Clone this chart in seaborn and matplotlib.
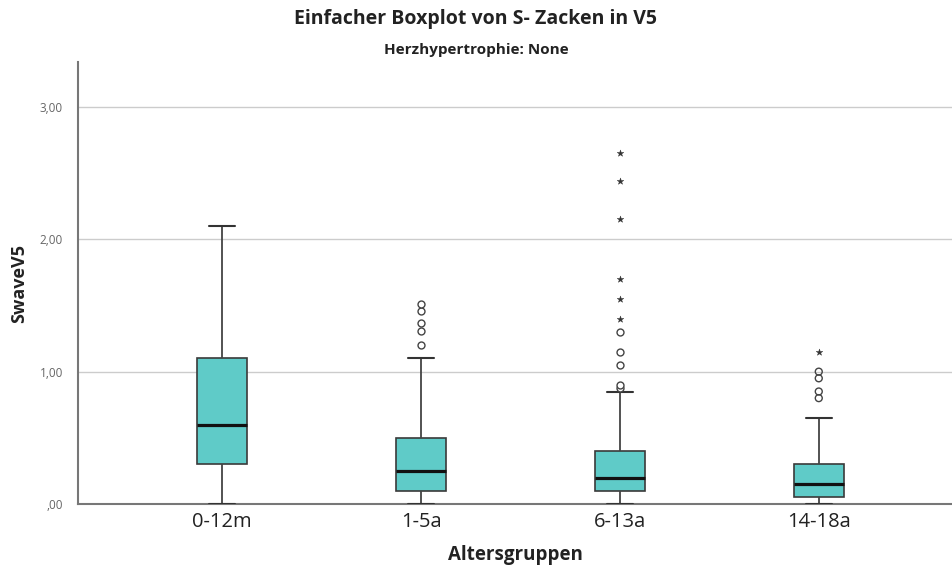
import matplotlib
matplotlib.use("Agg")
import matplotlib.pyplot as plt
import seaborn as sns
import pandas as pd
from matplotlib.ticker import FixedLocator

# ---- data ----
groups = ["0-12m", "1-5a", "6-13a", "14-18a"]
whisker_low = [0.00, 0.00, 0.00, 0.00]
q1 = [0.30, 0.10, 0.10, 0.05]
median = [0.60, 0.25, 0.20, 0.15]
q3 = [1.10, 0.50, 0.40, 0.30]
whisker_high = [2.10, 1.10, 0.85, 0.65]

circle_groups = ["1-5a"] * 5 + ["6-13a"] * 5 + ["14-18a"] * 4
circle_values = [1.20, 1.31, 1.37, 1.46, 1.51,
                 0.88, 0.90, 1.05, 1.15, 1.30,
                 0.80, 0.85, 0.95, 1.00]
star_groups = ["6-13a"] * 6 + ["14-18a"]
star_values = [1.40, 1.55, 1.70, 2.15, 2.44, 2.65, 1.15]

y_ticks = [0, 1, 2, 3]
y_ticklabels = [",00", "1,00", "2,00", "3,00"]

title = "Einfacher Boxplot von S- Zacken in V5"
subtitle = "Herzhypertrophie: None"
xlabel = "Altersgruppen"
ylabel = "SwaveV5"

# ---- build long table so that box statistics match ----
rows = []
for g, a, b, c, d, e in zip(groups, whisker_low, q1, median, q3, whisker_high):
    for v in (a, b, c, d, e):
        rows.append({"group": g, "value": v})
box_df = pd.DataFrame(rows)
circ_df = pd.DataFrame({"group": circle_groups, "value": circle_values})
star_df = pd.DataFrame({"group": star_groups, "value": star_values})

sns.set_style("white")
plt.rcParams["font.family"] = ["Open Sans", "DejaVu Sans"]

fig = plt.figure(figsize=(9.52, 5.70), dpi=100)
ax = fig.add_axes([0.082, 0.1158, 0.918, 0.7754])

fill = "#5FCBC8"
sns.boxplot(data=box_df, x="group", y="value", order=groups, whis=(0, 100),
            showfliers=False, width=0.25, color=fill, saturation=1, ax=ax,
            boxprops=dict(facecolor=fill, edgecolor="#3a3a3a", linewidth=1.2),
            medianprops=dict(color="#111111", linewidth=2.3),
            whiskerprops=dict(color="#444444", linewidth=1.3),
            capprops=dict(color="#333333", linewidth=1.5),
            capwidths=0.13, zorder=3)

sns.stripplot(data=circ_df, x="group", y="value", order=groups, jitter=False,
              marker="o", size=5, color="white", edgecolor="#444444",
              linewidth=1.0, ax=ax, zorder=4)
ax.collections[-1].set_facecolor("none")
sns.stripplot(data=star_df, x="group", y="value", order=groups, jitter=False,
              marker="*", size=5, color="#333333", edgecolor="#333333",
              linewidth=0.3, ax=ax, zorder=4)

ax.set_xlim(-0.725, 3.67)
ax.set_ylim(0, 3.34)

ax.yaxis.set_major_locator(FixedLocator(y_ticks))
ax.set_yticklabels(y_ticklabels, fontsize=8.5, color="#666666")
ax.set_xticks(range(len(groups)))
ax.set_xticklabels(groups, fontsize=14.5, color="#222222")
ax.grid(axis="y", color="#cccccc", linewidth=1.0, zorder=0)
ax.set_axisbelow(True)
ax.tick_params(axis="x", direction="in", length=5, width=1, color="#555555", pad=6)
ax.tick_params(axis="y", length=0, pad=11)

for s in ("top", "right"):
    ax.spines[s].set_visible(False)
for s in ("left", "bottom"):
    ax.spines[s].set_color("#777777")
    ax.spines[s].set_linewidth(1.5)

ax.set_xlabel(xlabel, fontsize=13.5, fontweight="bold", color="#222222", labelpad=9)
ax.set_ylabel(ylabel, fontsize=13, fontweight="bold", color="#222222", labelpad=8)

fig.text(0.5, 0.967, title, ha="center", va="center", fontsize=14,
         fontweight="bold", color="#222222")
fig.text(0.5, 0.912, subtitle, ha="center", va="center", fontsize=11,
         fontweight="bold", color="#222222")

fig.savefig("out.png", dpi=100)
